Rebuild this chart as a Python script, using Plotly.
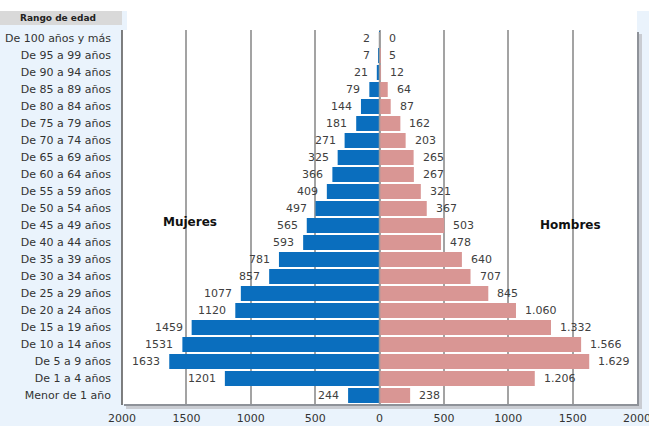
import plotly.graph_objects as go

# Age groups, top of the pyramid first
age_groups = [
    "De 100 años y más", "De 95 a 99 años", "De 90 a 94 años", "De 85 a 89 años",
    "De 80 a 84 años", "De 75 a 79 años", "De 70 a 74 años", "De 65 a 69 años",
    "De 60 a 64 años", "De 55 a 59 años", "De 50 a 54 años", "De 45 a 49 años",
    "De 40 a 44 años", "De 35 a 39 años", "De 30 a 34 años", "De 25 a 29 años",
    "De 20 a 24 años", "De 15 a 19 años", "De 10 a 14 años", "De 5 a 9 años",
    "De 1 a 4 años", "Menor de 1 año",
]
mujeres = [2, 7, 21, 79, 144, 181, 271, 325, 366, 409, 497, 565, 593, 781, 857,
           1077, 1120, 1459, 1531, 1633, 1201, 244]
hombres = [0, 5, 12, 64, 87, 162, 203, 265, 267, 321, 367, 503, 478, 640, 707,
           845, 1060, 1332, 1566, 1629, 1206, 238]

tick_vals = [-2000, -1500, -1000, -500, 0, 500, 1000, 1500, 2000]
tick_text = ["2000", "1500", "1000", "500", "0", "500", "1000", "1500", "2000"]

W, H = 649, 426
L, R, T, B = 122, 12, 30, 22
PW, PH = W - L - R, H - T - B

BLUE = "#0a6ebe"
PINK = "#d99694"
BG = "#eaf3fc"
FONT = "DejaVu Sans"


def xp(px):
    return (px - L) / PW


def yp(py):
    return (H - B - py) / PH


def fmt_es(v):
    return f"{v:,}".replace(",", ".")


fig = go.Figure()
fig.add_trace(go.Bar(y=age_groups, x=[-v for v in mujeres], orientation="h",
                     marker=dict(color=BLUE, line=dict(width=0)), showlegend=False,
                     hoverinfo="skip"))
fig.add_trace(go.Bar(y=age_groups, x=hombres, orientation="h",
                     marker=dict(color=PINK, line=dict(width=0)), showlegend=False,
                     hoverinfo="skip"))

# value labels just beyond each bar end
for g, v in zip(age_groups, mujeres):
    fig.add_annotation(x=-v, y=g, text=str(v), showarrow=False, xanchor="right",
                       xshift=-7, font=dict(family=FONT, size=11, color="#404040"))
for g, v in zip(age_groups, hombres):
    fig.add_annotation(x=v, y=g, text=fmt_es(v), showarrow=False, xanchor="left",
                       xshift=7, font=dict(family=FONT, size=11, color="#404040"))

fig.add_annotation(xref="paper", yref="paper", x=xp(190), y=yp(222), text="<b>Mujeres</b>",
                   xanchor="center", yanchor="middle", showarrow=False,
                   font=dict(family=FONT, size=12, color="#111"))
fig.add_annotation(xref="paper", yref="paper", x=xp(570), y=yp(225), text="<b>Hombres</b>",
                   xanchor="center", yanchor="middle", showarrow=False,
                   font=dict(family=FONT, size=12, color="#111"))
fig.add_annotation(xref="paper", yref="paper", x=xp(18), y=yp(18), text="<b>Rango de edad</b>",
                   xanchor="left", yanchor="middle", showarrow=False,
                   font=dict(family=FONT, size=9, color="#222"))

shapes = [
    # light blue page + white chart panel
    dict(type="rect", xref="paper", yref="paper", x0=xp(0), x1=xp(W), y0=yp(H), y1=yp(11),
         fillcolor=BG, line_width=0, layer="below"),
    dict(type="rect", xref="paper", yref="paper", x0=xp(127), x1=xp(637), y0=yp(404), y1=yp(0),
         fillcolor="white", line_width=0, layer="below"),
    dict(type="rect", xref="paper", yref="paper", x0=xp(0), x1=xp(122), y0=yp(25), y1=yp(11),
         fillcolor="#d9d9d9", line_width=0, layer="below"),
    dict(type="rect", xref="paper", yref="paper", x0=xp(122), x1=xp(637), y0=yp(404), y1=yp(30),
         fillcolor="white", line_width=0, layer="below"),
    # drop shadow right / bottom
    dict(type="rect", xref="paper", yref="paper", x0=xp(637), x1=xp(642), y0=yp(409), y1=yp(34),
         fillcolor="#c9ccd2", line_width=0, layer="below"),
    dict(type="rect", xref="paper", yref="paper", x0=xp(126), x1=xp(642), y0=yp(409), y1=yp(404),
         fillcolor="#c9ccd2", line_width=0, layer="below"),
    dict(type="rect", xref="paper", yref="paper", x0=xp(637), x1=xp(639), y0=yp(406), y1=yp(32),
         fillcolor="#8e9299", line_width=0, layer="below"),
    dict(type="rect", xref="paper", yref="paper", x0=xp(124), x1=xp(639), y0=yp(406), y1=yp(404),
         fillcolor="#8e9299", line_width=0, layer="below"),
    # left border
    dict(type="line", xref="paper", yref="paper", x0=xp(122), x1=xp(122), y0=yp(405), y1=yp(30),
         line=dict(color="#555", width=1.5)),
    # centre line over the bars
    dict(type="line", xref="x", yref="paper", x0=0, x1=0, y0=0, y1=yp(32),
         line=dict(color="#9a9a9a", width=1.5)),
]

fig.update_layout(
    width=W, height=H,
    margin=dict(l=L, r=R, t=T, b=B, autoexpand=False),
    barmode="overlay", bargap=0.12,
    paper_bgcolor="white", plot_bgcolor="white",
    font=dict(family=FONT, size=11, color="#333"),
    shapes=shapes,
)
# invisible tick marks just push the x labels down a few pixels
fig.update_xaxes(range=[-2000, 2000], tickvals=tick_vals, ticktext=tick_text,
                 showgrid=True, gridcolor="#a3a3a3", gridwidth=1.5, zeroline=False,
                 showline=False, ticks="outside", ticklen=4, tickcolor="rgba(0,0,0,0)",
                 tickfont=dict(family=FONT, size=11, color="#333"),
                 automargin=False, ticklabeloverflow="allow", fixedrange=True)
fig.update_yaxes(categoryorder="array", categoryarray=age_groups, autorange="reversed",
                 showgrid=False, zeroline=False, showline=False, ticks="",
                 ticklabelstandoff=10, tickfont=dict(family=FONT, size=11, color="#333"),
                 automargin=False, ticklabeloverflow="allow", fixedrange=True)

# the page's default 8px body margin would shift the whole chart
fig.write_html("out.html", config={"displayModeBar": False},
               post_script="document.body.style.margin='0';")
